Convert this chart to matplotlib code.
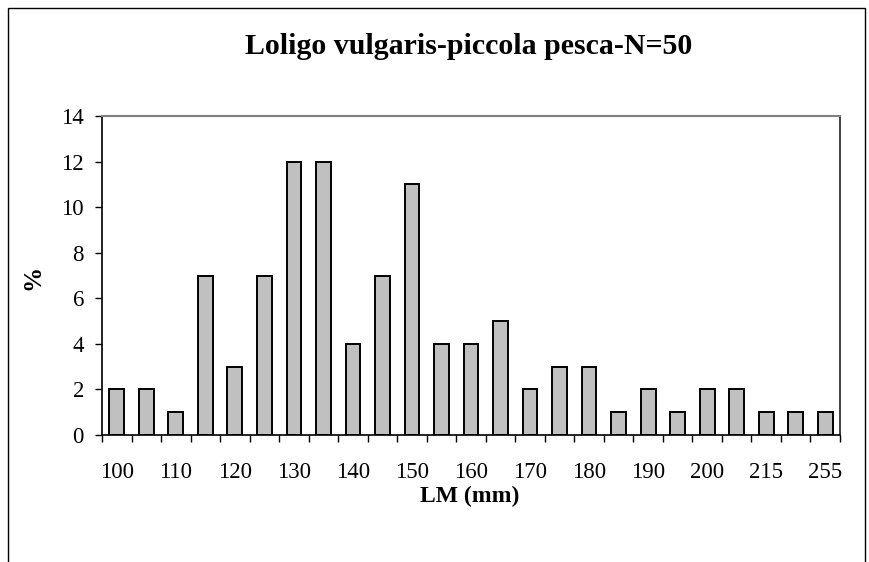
import matplotlib.pyplot as plt
from matplotlib.patches import Rectangle

# length classes (mm) and percentage of catch
classes = ["100", "105", "110", "115", "120", "125", "130", "135", "140", "145",
           "150", "155", "160", "165", "170", "175", "180", "185", "190", "195",
           "200", "205", "215", "220", "255"]
percent = [2, 2, 1, 7, 3, 7, 12, 12, 4, 7, 11, 4, 4, 5, 2, 3, 3, 1, 2, 1,
           2, 2, 1, 1, 1]

plt.rcParams["font.family"] = ["Liberation Serif", "DejaVu Serif"]

fig = plt.figure(figsize=(8.69, 5.62), dpi=100)

# outer chart frame (cut off at the bottom)
fig.patches.append(Rectangle((8 / 869, -0.05), 857 / 869, 1 - 8 / 562 + 0.05,
                             transform=fig.transFigure, fill=False,
                             edgecolor="black", linewidth=1.0))

ax = fig.add_axes([102 / 869, 1 - 435 / 562, 738 / 869, 319 / 562])

x = list(range(len(classes)))
ax.bar(x, percent, width=0.5, color="#C0C0C0", edgecolor="black", linewidth=1.4)

ax.set_xlim(-0.5, len(classes) - 0.5)
ax.set_ylim(0, 14)
ax.set_yticks(range(0, 15, 2))

# labels every other class, tick marks between classes
ax.set_xticks(x[::2])
ax.set_xticklabels(classes[::2])
ax.set_xticks([i - 0.5 for i in range(len(classes) + 1)], minor=True)
ax.tick_params(axis="x", which="major", length=0, pad=19.5, labelsize=16.5)
ax.tick_params(axis="x", which="minor", length=5, width=1, direction="out")
ax.tick_params(axis="y", length=5, width=1, direction="out", pad=8, labelsize=16.5)

ax.spines["top"].set_color("#808080")
ax.spines["top"].set_linewidth(1.5)
ax.spines["right"].set_color("#202020")
ax.spines["right"].set_linewidth(1.2)
ax.spines["left"].set_linewidth(1.2)
ax.spines["bottom"].set_linewidth(1.2)

fig.text(469 / 869, 1 - 46 / 562, "Loligo vulgaris-piccola pesca-N=50",
         ha="center", va="center", fontsize=21.5, fontweight="bold")
fig.text(470 / 869, 1 - 496 / 562, "LM (mm)", ha="center", va="center",
         fontsize=17, fontweight="bold")
fig.text(33 / 869, 1 - 277 / 562, "%", ha="center", va="center",
         fontsize=18, fontweight="bold", rotation=90)

fig.savefig("out.png", dpi=100)
